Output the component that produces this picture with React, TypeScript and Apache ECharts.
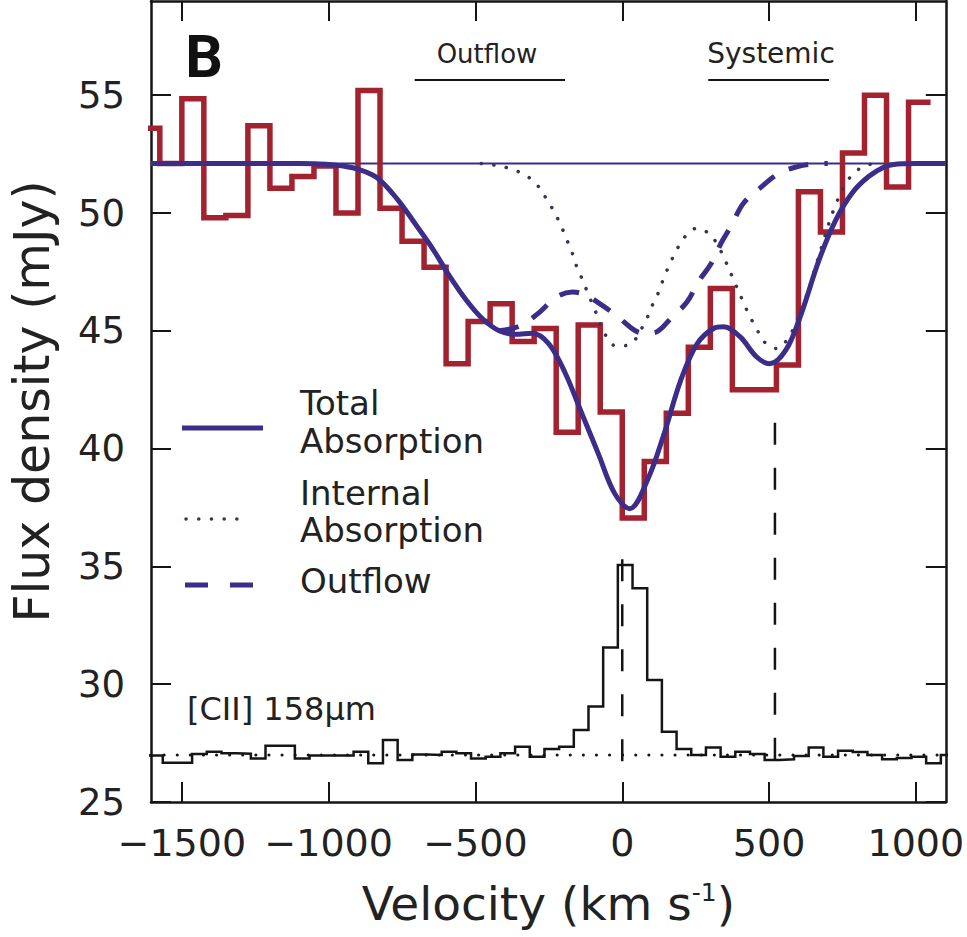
import { useEffect, useRef } from "react";
import * as echarts from "echarts";

// ---------- axes ----------
const X_MIN = -1605;
const X_MAX = 1102;
const Y_MIN = 25;
const Y_MAX = 59;
const xTickValues = [-1500, -1000, -500, 0, 500, 1000];
const yTickValues = [25, 30, 35, 40, 45, 50, 55];

// ---------- absorption spectrum (red histogram), 75 km/s bins ----------
const absBinStart = -1650;
const absBinWidth = 75;
const absFlux = [
  53.6, 52.1, 54.85, 49.8, 49.9, 53.7, 51.05, 51.55, 52.0, 50.0, 55.2, 50.2,
  48.8, 47.7, 43.6, 45.4, 46.15, 44.55, 45.1, 40.7, 45.25, 41.55, 37.05, 39.45,
  41.5, 44.3, 46.8, 42.5, 42.5, 43.55, 50.9, 49.2, 52.55, 55.0, 51.1, 54.7,
];

// ---------- [CII] 158um emission (black histogram), 50 km/s bins ----------
const ciiBinStart = -1615;
const ciiBinWidth = 50;
const ciiFlux = [
  26.97, 26.67, 26.67, 27.04, 27.13, 27.07, 27.05, 26.85, 27.39, 27.39, 26.85,
  26.97, 26.97, 26.97, 27.13, 26.64, 27.63, 26.78, 27.02, 27.0, 27.13, 27.07,
  26.85, 26.92, 27.07, 27.35, 26.92, 27.25, 27.35, 28.06, 29.05, 31.56, 35.06,
  34.07, 30.18, 27.98, 27.25, 27.0, 27.31, 26.92, 27.13, 27.04, 26.78, 26.81,
  26.95, 27.31, 26.92, 27.18, 27.12, 27.0, 26.81, 26.87, 26.92, 26.64, 27.0,
];

const continuumFlux = 52.1;
const ciiContinuum = 27.0;

// ---------- model curves ----------
const totalVel = [
  -1605, -1400, -1200, -1100, -1050, -1000, -950, -900, -835, -767, -700, -644,
  -587, -531, -475, -419, -363, -307, -250, -194, -138, -82, -26, 25, 87, 143,
  199, 255, 311, 345, 401, 457, 502, 558, 609, 670, 727, 783, 839, 895, 925,
  960, 1000, 1050, 1102,
];
const totalFlux = [
  52.1, 52.1, 52.1, 52.1, 52.09, 52.06, 51.99, 51.86, 51.5, 50.6, 49.45, 48.45,
  47.3, 46.3, 45.5, 45.0, 44.85, 44.9, 44.45, 43.2, 41.5, 39.8, 38.1, 37.45,
  38.7, 40.65, 42.9, 44.45, 45.1, 45.17, 44.75, 43.9, 43.6, 44.2, 45.7, 48.0,
  49.7, 50.85, 51.55, 51.98, 52.06, 52.09, 52.1, 52.1, 52.1,
];

const internalVel = [
  -480, -419, -374, -329, -290, -259, -234, -211, -191, -172, -155, -135, -116,
  -95, -57, -20, 28, 81, 103, 124, 143, 163, 185, 212, 253, 298, 328, 350, 371,
  412, 432, 457, 483, 525, 575, 625, 675, 725, 775, 825, 875,
];
const internalFlux = [
  52.1, 52.0, 51.85, 51.6, 51.19, 50.62, 50.1, 49.53, 48.93, 48.36, 47.72,
  47.16, 46.56, 45.95, 44.82, 44.35, 44.44, 45.46, 46.1, 46.65, 47.3, 47.86,
  48.43, 48.97, 49.35, 49.1, 48.57, 48.0, 47.4, 46.23, 45.67, 45.1, 44.54,
  44.25, 44.9, 46.4, 48.4, 50.3, 51.5, 52.0, 52.1,
];

const outflowVel = [
  -420, -350, -290, -222, -170, -130, -82, -20, 41, 75, 109, 171, 221, 260,
  300, 340, 373, 412, 468, 536, 597, 650, 700,
];
const outflowFlux = [
  45.0, 45.2, 45.7, 46.45, 46.65, 46.55, 46.2, 45.65, 45.03, 44.9, 44.92, 45.6,
  46.23, 47.1, 47.8, 48.8, 49.5, 50.4, 51.05, 51.7, 51.97, 52.08, 52.1,
];

// vertical dashed markers: velocity, top flux, bottom flux
const markerVel = [0, 520];
const markerTop = [35.3, 41.1];
const markerBottom = [26.7, 26.7];

// velocity ranges annotated at the top
const outflowRange = [-707, -195];
const systemicRange = [293, 704];
const rangeLevel = 55.65;

// ---------- styles ----------
const FONT = "'DejaVu Sans', sans-serif";
const TEXT = "#222";
const RED = "#a3222f";
const BLUE = "#3b2d88";
const DOT = "#3b3356";
const BLACK = "#151515";

function steps(start: number, width: number, vals: number[]) {
  const pts: number[][] = [];
  vals.forEach((v, i) => {
    pts.push([start + i * width, v]);
    pts.push([start + (i + 1) * width, v]);
  });
  return pts;
}
const zip = (a: number[], b: number[]) => a.map((x, i) => [x, b[i]]);

const base = {
  type: "line",
  symbol: "none",
  silent: true,
  animation: false,
  clip: true,
};

function buildOption() {
  const series: any[] = [];
  // thin continuum line
  series.push({
    ...base,
    data: [
      [X_MIN, continuumFlux],
      [X_MAX, continuumFlux],
    ],
    lineStyle: { color: BLUE, width: 2 },
    z: 3,
  });
  // red histogram
  series.push({
    ...base,
    data: steps(absBinStart, absBinWidth, absFlux),
    lineStyle: { color: RED, width: 5.5, join: "miter" },
    z: 4,
  });
  // internal absorption (dotted)
  series.push({
    ...base,
    data: zip(internalVel, internalFlux),
    smooth: 0.35,
    lineStyle: { color: DOT, width: 3.5, type: [0.1, 12.5], cap: "round" },
    z: 5,
  });
  // outflow (dashed)
  series.push({
    ...base,
    data: zip(outflowVel, outflowFlux),
    smooth: 0.35,
    lineStyle: { color: BLUE, width: 5, type: [20, 16] },
    z: 5,
  });
  // total absorption
  series.push({
    ...base,
    data: zip(totalVel, totalFlux),
    smooth: 0.35,
    lineStyle: { color: BLUE, width: 5 },
    z: 6,
  });
  // CII histogram
  series.push({
    ...base,
    data: steps(ciiBinStart, ciiBinWidth, ciiFlux),
    lineStyle: { color: BLACK, width: 2.5, join: "miter" },
    z: 4,
  });
  // CII continuum (dotted)
  series.push({
    ...base,
    data: [
      [X_MIN, ciiContinuum],
      [X_MAX, ciiContinuum],
    ],
    lineStyle: { color: BLACK, width: 3, type: [0.1, 13], cap: "round" },
    z: 3,
  });
  // vertical dashed markers
  markerVel.forEach((v, i) => {
    series.push({
      ...base,
      data: [
        [v, markerTop[i]],
        [v, markerBottom[i]],
      ],
      lineStyle: { color: BLACK, width: 2.5, type: [22, 23] },
      z: 3,
    });
  });
  // range bars
  [outflowRange, systemicRange].forEach((r) => {
    series.push({
      ...base,
      data: [
        [r[0], rangeLevel],
        [r[1], rangeLevel],
      ],
      lineStyle: { color: BLACK, width: 2 },
      z: 3,
    });
  });

  const axisLine = { show: true, onZero: false, lineStyle: { color: BLACK, width: 2.5 } };
  const tickStyle = { color: BLACK, width: 2 };

  const txt = (x: number, y: number, text: string, size: number, extra: any = {}) => ({
    type: "text",
    x,
    y,
    silent: true,
    style: {
      text,
      fill: TEXT,
      font: `${size}px ${FONT}`,
      align: "left",
      verticalAlign: "middle",
      ...extra,
    },
    z: 20,
  });

  return {
    animation: false,
    backgroundColor: "#fff",
    grid: { left: 145, right: 19, top: 1, bottom: 135, containLabel: false },
    xAxis: [
      {
        type: "value",
        min: X_MIN,
        max: X_MAX,
        position: "bottom",
        axisLine,
        splitLine: { show: false },
        axisTick: {
          show: true,
          inside: true,
          length: 20,
          lineStyle: tickStyle,
          customValues: xTickValues,
        },
        axisLabel: {
          show: true,
          customValues: xTickValues,
          margin: 22,
          fontSize: 38,
          fontFamily: FONT,
          color: TEXT,
          formatter: (v: number) => (v < 0 ? "\u2212" + Math.abs(v) : String(v)),
        },
        name: "{a|Velocity (km s}{b|-1}{a|)}",
        nameLocation: "middle",
        nameGap: 78,
        nameTextStyle: {
          fontFamily: FONT,
          color: TEXT,
          fontSize: 47,
          rich: {
            a: { fontSize: 47, fontFamily: FONT, color: TEXT },
            b: { fontSize: 25, fontFamily: FONT, color: TEXT, verticalAlign: "top" },
          },
        },
      },
      {
        type: "value",
        min: X_MIN,
        max: X_MAX,
        position: "top",
        axisLine,
        splitLine: { show: false },
        axisTick: {
          show: true,
          inside: true,
          length: 20,
          lineStyle: tickStyle,
          customValues: xTickValues,
        },
        axisLabel: { show: false },
      },
    ],
    yAxis: [
      {
        type: "value",
        min: Y_MIN,
        max: Y_MAX,
        position: "left",
        axisLine,
        splitLine: { show: false },
        axisTick: {
          show: true,
          inside: true,
          length: 20,
          lineStyle: tickStyle,
          customValues: yTickValues,
        },
        axisLabel: {
          show: true,
          customValues: yTickValues,
          margin: 26,
          fontSize: 37,
          fontFamily: FONT,
          color: TEXT,
        },
        name: "Flux density (mJy)",
        nameLocation: "middle",
        nameGap: 94,
        nameRotate: 90,
        nameTextStyle: { fontFamily: FONT, color: TEXT, fontSize: 49 },
      },
      {
        type: "value",
        min: Y_MIN,
        max: Y_MAX,
        position: "right",
        axisLine,
        splitLine: { show: false },
        axisTick: {
          show: true,
          inside: true,
          length: 20,
          lineStyle: tickStyle,
          customValues: yTickValues,
        },
        axisLabel: { show: false },
      },
    ],
    series,
    graphic: [
      {
        type: "text",
        x: 204,
        y: 56,
        silent: true,
        style: {
          text: "B",
          fill: "#111",
          font: "bold 59px Roboto, sans-serif",
          align: "center",
          verticalAlign: "middle",
        },
        z: 20,
      },
      txt(487, 54, "Outflow", 26, { align: "center" }),
      txt(771, 53, "Systemic", 28, { align: "center" }),
      txt(187, 709, "[CII] 158\u00b5m", 32),
      // legend
      {
        type: "line",
        silent: true,
        shape: { x1: 182, y1: 428, x2: 263, y2: 428 },
        style: { stroke: BLUE, lineWidth: 5 },
        z: 20,
      },
      {
        type: "line",
        silent: true,
        shape: { x1: 186, y1: 519, x2: 249, y2: 519 },
        style: { stroke: DOT, lineWidth: 3.5, lineDash: [0.1, 12.6], lineCap: "round" },
        z: 20,
      },
      {
        type: "line",
        silent: true,
        shape: { x1: 185, y1: 585, x2: 253, y2: 585 },
        style: { stroke: BLUE, lineWidth: 5, lineDash: [23, 22] },
        z: 20,
      },
      txt(300, 403, "Total", 34),
      txt(300, 441, "Absorption", 34),
      txt(300, 493, "Internal", 34),
      txt(300, 530, "Absorption", 34),
      txt(300, 581, "Outflow", 34),
    ],
  };
}

export default function App() {
  const ref = useRef<HTMLDivElement>(null);
  useEffect(() => {
    if (!ref.current) return;
    const chart = echarts.init(ref.current, null, { renderer: "svg" });
    chart.setOption(buildOption() as any);
    return () => chart.dispose();
  }, []);
  return (
    <div
      ref={ref}
      style={{ position: "fixed", left: 0, top: 0, width: 967, height: 937, background: "#fff" }}
    />
  );
}
